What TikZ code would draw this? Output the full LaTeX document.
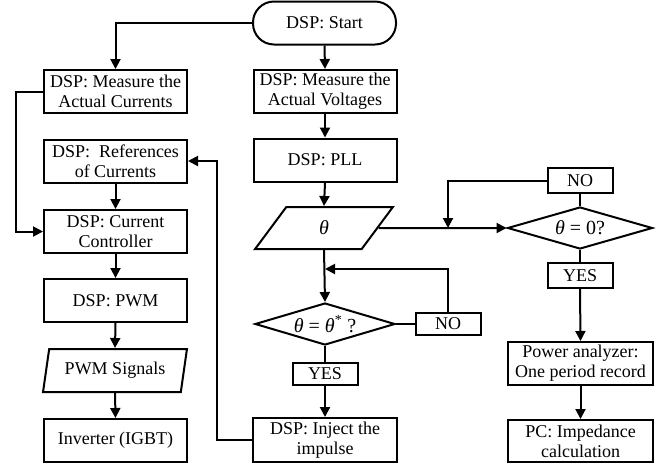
\documentclass[tikz,border=0pt]{standalone}
\usepackage{fontspec}
\setmainfont{Liberation Serif}
\usetikzlibrary{arrows.meta,shapes.geometric}
\tikzset{
  every node/.style={font=\fontsize{18}{20}\selectfont},
  mathfont/.style={font=\fontsize{20}{22}\selectfont},
  box/.style={draw, line width=2pt, rectangle, inner sep=0pt, align=center, minimum width=143pt, minimum height=43pt},
  tag/.style={draw, line width=2pt, rectangle, inner sep=0pt, minimum width=65pt, minimum height=24pt},
  term/.style={draw, line width=2pt, rectangle, rounded corners=21pt, inner sep=0pt, minimum width=143pt, minimum height=43pt},
  para/.style={draw, line width=2pt, trapezium, trapezium left angle=74, trapezium right angle=106, trapezium stretches=true, inner sep=0pt, minimum width=140pt, minimum height=43pt},
  dec/.style={draw, line width=2pt, diamond, aspect=3.4, inner sep=0pt, minimum width=143pt, minimum height=42pt, mathfont},
  conn/.style={line width=2pt},
  arr/.style={line width=2pt, -{Triangle[length=10pt,width=10pt]}}
}
\begin{document}
\begin{tikzpicture}[x=1pt,y=-1pt]
\useasboundingbox (0,0) rectangle (660,467);
% nodes
\node[term] (start) at (324.5,23) {DSP: Start};
\node[box] (meascur) at (115.5,91.5) {DSP: Measure the\\Actual Currents};
\node[box] (measvol) at (325,91.5) {DSP: Measure the\\Actual Voltages};
\node[box] (pll) at (325,160) {DSP: PLL};
\node[box] (refs) at (115.5,161) {DSP:~ References\\of Currents};
\node[box] (ctrl) at (115.5,231.5) {DSP: Current\\Controller};
\node[box] (pwm) at (115.5,300.5) {DSP: PWM};
\node[para, minimum width=144pt] (pwmsig) at (115,370.5) {PWM Signals};
\node[box] (inv) at (115.5,440.5) {Inverter (IGBT)};
\node[para, mathfont, minimum width=138pt, minimum height=42pt] (theta) at (324,228) {\textit{θ}};
\node[dec, minimum width=140pt] (dia1) at (325,324) {\textit{θ} = \textit{θ}\textsuperscript{*} ?};
\node[tag, minimum height=22pt] (no1) at (448,324) {NO};
\node[tag, minimum height=22pt] (yes1) at (325,374) {YES};
\node[box, minimum width=144pt, minimum height=44pt] (inject) at (325,440) {DSP: Inject the\\impulse};
\node[dec, minimum width=145pt] (dia0) at (580,228) {\textit{θ} = 0?};
\node[tag, minimum height=25pt] (no0) at (580,180.5) {NO};
\node[tag, minimum height=25pt] (yes0) at (580,275.5) {YES};
\node[box, minimum width=145pt] (power) at (580.5,363.5) {Power analyzer:\\One period record};
\node[box, minimum width=145pt, minimum height=42pt] (pc) at (580.5,441) {PC: Impedance\\calculation};
\coordinate (m1) at (325,269);
\coordinate (m0) at (448,228);
% connectors
\draw[arr] (start.west) -| (meascur.north);
\draw[arr] (start.south) -- (measvol.north);
\draw[arr] (measvol.south) -- (pll.north);
\draw[arr] (pll.south) -- (theta.north);
\draw[arr] (theta.south) -- (dia1.north);
\draw[arr] (no1.north) |- (m1);
\draw[conn] (dia1.east) -- (no1.west);
\draw[conn] (dia1.south) -- (yes1.north);
\draw[arr] (yes1.south) -- (inject.north);
\draw[arr] (inject.west) -- ++(-35,0) |- (refs.east);
\draw[arr] (meascur.west) -- ++(-27,0) |- (ctrl.west);
\draw[arr] (refs.south) -- (ctrl.north);
\draw[arr] (ctrl.south) -- (pwm.north);
\draw[arr] (pwm.south) -- (pwmsig.north);
\draw[arr] (pwmsig.south) -- (inv.north);
\draw[arr] (theta.east) -- (dia0.west);
\draw[arr] (no0.west) -| (m0);
\draw[conn] (dia0.north) -- (no0.south);
\draw[conn] (dia0.south) -- (yes0.north);
\draw[arr] (yes0.south) -- (power.north);
\draw[arr] (power.south) -- (pc.north);
\end{tikzpicture}
\end{document}
